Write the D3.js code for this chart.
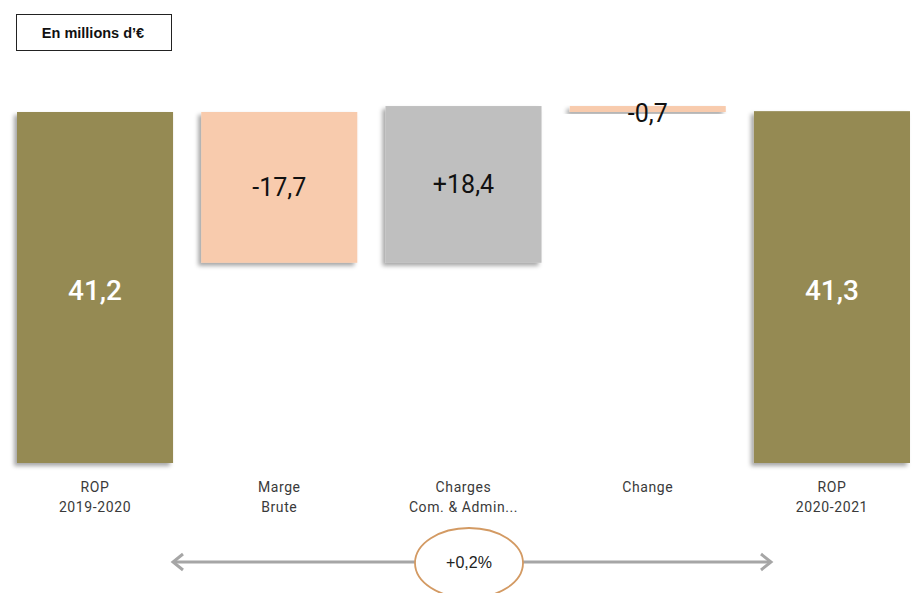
<!DOCTYPE html>
<html>
<head>
<meta charset="utf-8">
<script src="https://cdn.jsdelivr.net/npm/d3@7"></script>
<style>
  body { margin: 0; background: #fff; }
  text { font-family: Roboto, "DejaVu Sans", sans-serif; }
</style>
</head>
<body>
<div id="chart"></div>
<script>
// data
var categories = [["ROP", "2019-2020"], ["Marge", "Brute"], ["Charges", "Com. & Admin..."], ["Change"], ["ROP", "2020-2021"]];
var values = [41.2, -17.7, 18.4, -0.7, 41.3];
var kinds = ["total", "delta", "delta", "delta", "total"];
var valueLabels = ["41,2", "-17,7", "+18,4", "-0,7", "41,3"];
var unitLabel = "En millions d\u2019\u20ac";
var variationLabel = "+0,2%";

var width = 919, height = 593;
var baseline = 463; // bottom of the total bars

// colours
var colorTotal = "#958a53";
var colorNeg = "#f8cbad";
var colorPos = "#bfbfbf";

// waterfall steps
var running = 0;
var steps = values.map(function (v, i) {
    var s;
    if (kinds[i] === "total") {
        s = { y0: 0, y1: v };
        running = v;
    } else {
        s = { y0: running, y1: running + v };
        running += v;
    }
    s.value = v; s.kind = kinds[i]; s.label = valueLabels[i]; s.cat = categories[i];
    return s;
});

var x = d3.scaleBand().domain(d3.range(values.length)).range([17, 910]).paddingInner(0.153).paddingOuter(0);
var y = d3.scaleLinear().domain([0, 41.2]).range([baseline, 112]);

var svg = d3.select("#chart").append("svg")
    .attr("width", width)
    .attr("height", height);

var defs = svg.append("defs");
var f = defs.append("filter").attr("id", "shadow")
    .attr("x", "-10%").attr("y", "-10%").attr("width", "120%").attr("height", "130%");
f.append("feDropShadow")
    .attr("dx", -3).attr("dy", 3).attr("stdDeviation", 2)
    .attr("flood-color", "#000").attr("flood-opacity", 0.35);

// unit box
svg.append("rect")
    .attr("x", 16.5).attr("y", 14.5).attr("width", 155).attr("height", 36)
    .attr("fill", "#fff").attr("stroke", "#222").attr("stroke-width", 1);
svg.append("text")
    .attr("x", 93).attr("y", 38)
    .attr("text-anchor", "middle")
    .style("font-family", "Arial, 'Liberation Sans', sans-serif")
    .style("font-weight", "bold").style("font-size", "14.5px")
    .attr("fill", "#111")
    .text(unitLabel);

// bars
var bars = svg.append("g");
bars.selectAll("rect").data(steps).enter().append("rect")
    .attr("x", function (d, i) { return x(i); })
    .attr("y", function (d) { return y(Math.max(d.y0, d.y1)); })
    .attr("width", x.bandwidth())
    .attr("height", function (d) { return Math.abs(y(d.y0) - y(d.y1)); })
    .attr("fill", function (d) {
        if (d.kind === "total") return colorTotal;
        return d.value < 0 ? colorNeg : colorPos;
    })
    .attr("filter", "url(#shadow)");

// value labels
svg.append("g").selectAll("text").data(steps).enter().append("text")
    .attr("x", function (d, i) { return x(i) + x.bandwidth() / 2; })
    .attr("y", function (d) {
        var mid = (y(d.y0) + y(d.y1)) / 2;
        return mid;
    })
    .attr("dy", function (d) {
        if (d.kind === "total") return "0.45em";
        return Math.abs(y(d.y0) - y(d.y1)) < 20 ? "0.5em" : "0.36em";
    })
    .attr("text-anchor", "middle")
    .attr("fill", function (d) { return d.kind === "total" ? "#fff" : "#111"; })
    .style("font-size", function (d) { return d.kind === "total" ? "28px" : "25px"; })
    .style("font-weight", function (d) { return d.kind === "total" ? "500" : "400"; })
    .text(function (d) { return d.label; });

// category labels
var cats = svg.append("g").selectAll("text").data(steps).enter().append("text")
    .attr("text-anchor", "middle")
    .attr("fill", "#3a3a3a")
    .style("font-size", "14px")
    .style("letter-spacing", "0.6px");
cats.each(function (d, i) {
    var t = d3.select(this);
    d.cat.forEach(function (line, j) {
        t.append("tspan")
            .attr("x", x(i) + x.bandwidth() / 2)
            .attr("y", 492 + j * 20)
            .text(line);
    });
});

// variation arrow
var arrowY = 562;
var ax1 = 173, ax2 = 771, cx = 469;
var arrow = svg.append("g").attr("stroke", "#a6a6a6").attr("stroke-width", 3).attr("fill", "none");
arrow.append("line").attr("x1", ax1 + 1).attr("x2", cx).attr("y1", arrowY).attr("y2", arrowY);
arrow.append("line").attr("x1", cx).attr("x2", ax2 - 1).attr("y1", arrowY).attr("y2", arrowY);
arrow.append("path").attr("d", "M" + (ax1 + 10) + "," + (arrowY - 8) + "L" + ax1 + "," + arrowY + "L" + (ax1 + 10) + "," + (arrowY + 8));
arrow.append("path").attr("d", "M" + (ax2 - 10) + "," + (arrowY - 8) + "L" + ax2 + "," + arrowY + "L" + (ax2 - 10) + "," + (arrowY + 8));

svg.append("ellipse")
    .attr("cx", cx).attr("cy", arrowY + 1).attr("rx", 54).attr("ry", 35)
    .attr("fill", "#fff").attr("stroke", "#d39a63").attr("stroke-width", 1.8);
svg.append("text")
    .attr("x", cx).attr("y", arrowY).attr("dy", "0.36em")
    .attr("text-anchor", "middle")
    .style("font-family", "Arial, 'Liberation Sans', sans-serif")
    .style("font-size", "16px")
    .attr("fill", "#222")
    .text(variationLabel);
</script>
</body>
</html>
